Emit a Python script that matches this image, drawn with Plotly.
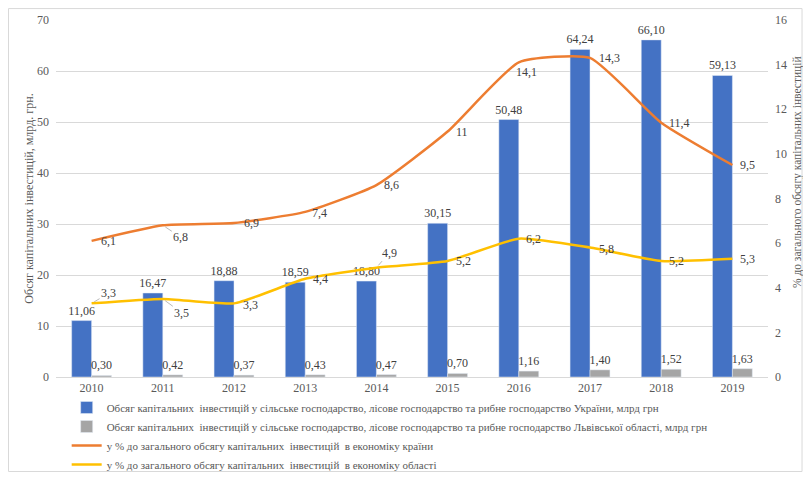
import plotly.graph_objects as go

years = ["2010", "2011", "2012", "2013", "2014", "2015", "2016", "2017", "2018", "2019"]
ukraine_invest = [11.06, 16.47, 18.88, 18.59, 18.80, 30.15, 50.48, 64.24, 66.10, 59.13]
lviv_invest = [0.30, 0.42, 0.37, 0.43, 0.47, 0.70, 1.16, 1.40, 1.52, 1.63]
share_country = [6.1, 6.8, 6.9, 7.4, 8.6, 11, 14.1, 14.3, 11.4, 9.5]
share_region = [3.3, 3.5, 3.3, 4.4, 4.9, 5.2, 6.2, 5.8, 5.2, 5.3]

names = [
    "Обсяг капітальних  інвестицій у сільське господарство, лісове господарство та рибне господарство України, млрд грн",
    "Обсяг капітальних  інвестицій у сільське господарство, лісове господарство та рибне господарство Львівської області, млрд грн",
    "у % до загального обсягу капітальних  інвестицій  в економіку країни",
    "у % до загального обсягу капітальних  інвестицій  в економіку області",
]
left_title = "Обсяг капітальних інвестицій, млрд. грн."
right_title = "% до загального обсягу капітальних інвестицій"

# label offsets (px) for line data labels, and whether a leader line is drawn
off_country = [(17, 0), (18, 12), (17, 0), (14, 1), (15, 0), (14, 0), (8, 10), (19, 0), (18, 0), (15, 0)]
lead_country = [False, True, False, False, False, False, False, False, False, False]
off_region = [(17, -10), (19, 14), (16, 2), (15, 0), (13, -15), (16, 0), (15, 0), (16, 1), (15, 0), (15, 0)]
lead_region = [True, True, False, False, True, False, False, False, False, False]

FONT = "Liberation Serif"
TXT = "#595959"
LBL = "#404040"

def fmt(v):
    return f"{v:g}".replace(".", ",")

fig = go.Figure()
fig.add_trace(go.Bar(x=years, y=ukraine_invest, name=names[0], marker_color="#4472C4",
                     text=[f"{v:.2f}".replace(".", ",") for v in ukraine_invest],
                     textposition="outside", constraintext="none",
                     textfont=dict(family=FONT, size=12, color=LBL), cliponaxis=False))
fig.add_trace(go.Bar(x=years, y=lviv_invest, name=names[1], marker_color="#A5A5A5",
                     text=[f"{v:.2f}".replace(".", ",") for v in lviv_invest],
                     textposition="outside", constraintext="none",
                     textfont=dict(family=FONT, size=12, color=LBL), cliponaxis=False))
fig.add_trace(go.Scatter(x=years, y=share_country, name=names[2], yaxis="y2", mode="lines",
                         line=dict(color="#ED7D31", width=2.5, shape="spline", smoothing=0.5)))
fig.add_trace(go.Scatter(x=years, y=share_region, name=names[3], yaxis="y2", mode="lines",
                         line=dict(color="#FFC000", width=2.5, shape="spline", smoothing=0.5)))

for vals, offs, leads in [(share_country, off_country, lead_country), (share_region, off_region, lead_region)]:
    for i, (v, (dx, dy), ld) in enumerate(zip(vals, offs, leads)):
        fig.add_annotation(x=i, y=v, xref="x", yref="y2", text=fmt(v), showarrow=True,
                           ax=dx, ay=dy, arrowhead=0, arrowwidth=0.8, standoff=3,
                           arrowcolor="#A6A6A6" if ld else "rgba(0,0,0,0)",
                           font=dict(family=FONT, size=12, color=LBL))

fig.add_annotation(x=1.0407, y=0.574, xref="paper", yref="paper", text=right_title,
                   textangle=-90, showarrow=False, xanchor="center", yanchor="middle",
                   font=dict(family=FONT, size=11.5, color=TXT))

fig.add_shape(type="rect", xref="paper", yref="paper", x0=-0.0667, x1=1.0478, y0=-0.2647, y1=1.032,
              line=dict(color="#D9D9D9", width=1), fillcolor="rgba(0,0,0,0)", layer="below")

fig.update_layout(
    width=795, height=464,
    margin=dict(l=48, r=35, t=12, b=95, autoexpand=False),
    paper_bgcolor="white", plot_bgcolor="white",
    barmode="group", bargap=0.44, bargroupgap=0,
    font=dict(family=FONT, size=12, color=TXT),
    xaxis=dict(type="category", range=[-0.5, 9.5], showgrid=False, showline=True,
               linecolor="#D9D9D9", ticks="", automargin=False,
               tickfont=dict(family=FONT, size=12, color=TXT)),
    yaxis=dict(range=[0, 70], dtick=10, showgrid=True, gridcolor="#D9D9D9", zeroline=False,
               automargin=False,
               tickfont=dict(family=FONT, size=12, color=TXT), ticklabelstandoff=6,
               title=dict(text=left_title,
                          font=dict(family=FONT, size=12, color=TXT), standoff=0)),
    yaxis2=dict(range=[0, 16], dtick=2, overlaying="y", side="right", showgrid=False, zeroline=False,
                automargin=False,
                tickfont=dict(family=FONT, size=12, color=TXT), ticklabelstandoff=6),
    legend=dict(orientation="v", x=0.015, xanchor="left", y=-0.0448, yanchor="top",
                font=dict(family=FONT, size=11, color=TXT), tracegroupgap=0,
                itemwidth=30, bgcolor="rgba(0,0,0,0)"),
    showlegend=True,
)

fig.write_html("out.html")
